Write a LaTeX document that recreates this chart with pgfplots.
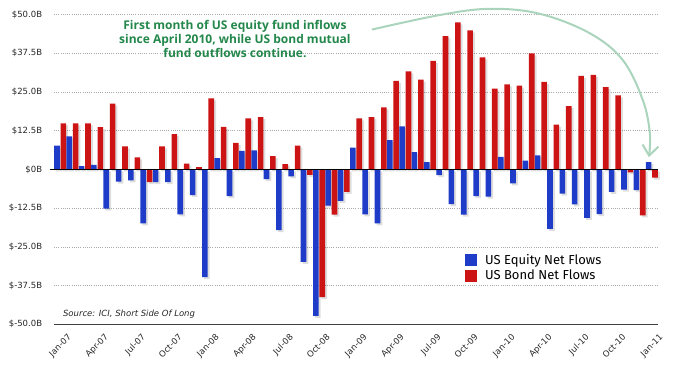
\documentclass[border=0pt]{standalone}
\usepackage{pgfplots}
\pgfplotsset{compat=1.18}
\usepackage{pgfplotstable}
\usepackage{fontspec}
\setmainfont{DejaVu Sans}
\newfontfamily\firafont{Fira Sans}
\newfontfamily\annfont{Open Sans}
\usetikzlibrary{arrows.meta}
\definecolor{eqblue}{RGB}{30,60,200}
\definecolor{bdred}{RGB}{205,20,20}
\definecolor{anngreen}{RGB}{35,135,75}
\definecolor{arrgreen}{RGB}{170,212,188}
\definecolor{gridgray}{RGB}{170,170,170}

\pgfplotstableread{
i eq bond
0 7.7 14.9
1 10.7 14.9
2 1.1 14.9
3 1.5 13.7
4 -12.6 21.3
5 -3.9 7.5
6 -3.5 3.9
7 -17.4 -4.1
8 -4.1 7.5
9 -4.1 11.4
10 -14.5 1.9
11 -8.3 0.75
12 -34.8 23.0
13 3.7 13.8
14 -8.6 8.6
15 6.0 16.5
16 6.2 16.9
17 -3.1 4.3
18 -19.6 1.7
19 -2.2 7.7
20 -29.8 -1.7
21 -47.3 -41.2
22 -11.7 -14.6
23 -10.1 -7.2
24 7.1 16.5
25 -14.5 16.9
26 -17.4 20.1
27 9.5 28.6
28 13.9 31.7
29 5.6 29.0
30 2.4 35.1
31 -1.8 43.1
32 -11.2 47.5
33 -14.6 44.9
34 -8.6 36.2
35 -8.8 26.1
36 4.1 27.5
37 -4.5 27.1
38 2.9 37.5
39 4.6 28.3
40 -19.2 14.5
41 -7.8 20.5
42 -11.3 30.2
43 -15.6 30.6
44 -14.4 26.6
45 -7.2 23.9
46 -6.5 -0.9
47 -6.7 -14.8
48 2.4 -2.6
}\flows

\begin{document}
\begin{tikzpicture}
\begin{axis}[
  scale only axis, width=604pt, height=309.6pt,
  xmin=-0.5, xmax=48.5, ymin=-50, ymax=50,
  clip=false,
  axis line style={draw=none},
  major tick length=0pt,
  ytick={-50,-37.5,-25,-12.5,0,12.5,25,37.5,50},
  yticklabels={\$-50.0B,\$-37.5B,\$-25.0B,\$-12.5B,\$0B,\$12.5B,\$25.0B,\$37.5B,\$50.0B},
  xtick={0,3,...,48},
  xticklabels={Jan-07,Apr-07,Jul-07,Oct-07,Jan-08,Apr-08,Jul-08,Oct-08,Jan-09,Apr-09,Jul-09,Oct-09,Jan-10,Apr-10,Jul-10,Oct-10,Jan-11},
  ymajorgrids,
  major grid style={gridgray, line width=0.6pt, dash pattern=on 0.8pt off 1.4pt},
  tick label style={font=\fontsize{8.5}{10}\selectfont, text=black!85},
  yticklabel style={anchor=east, inner sep=0pt, xshift=-11.7pt},
  xticklabel style={inner sep=0pt, xshift=7pt, yshift=-9pt, rotate=45, anchor=north east},
  legend style={at={(axis cs:32.83,-26.9)}, anchor=north west, draw=none, fill=none,
    inner sep=0pt, row sep=2.5pt, font=\firafont\fontsize{13}{15}\selectfont,
    nodes={inner sep=1pt},
    /tikz/every odd column/.append style={column sep=7pt}},
  legend cell align=left,
  legend image code/.code={\fill[#1] (0pt,-6pt) rectangle (12pt,6pt);},
]
% shadows
\addplot[ybar, bar width=5.6pt, bar shift=-1.2pt, fill=black, fill opacity=0.13, draw=none, yshift=-2pt, forget plot] table[x=i,y=eq] {\flows};
\addplot[ybar, bar width=5.6pt, bar shift=5.2pt, fill=black, fill opacity=0.13, draw=none, yshift=-2pt, forget plot] table[x=i,y=bond] {\flows};
% bars
\addplot[ybar, bar width=5.6pt, bar shift=-3.2pt, fill=eqblue, draw=none] table[x=i,y=eq] {\flows};
\addlegendentry{US Equity Net Flows}
\addplot[ybar, bar width=5.6pt, bar shift=3.2pt, fill=bdred, draw=none] table[x=i,y=bond] {\flows};
\addlegendentry{US Bond Net Flows}
% axis lines
\draw[black, line width=1pt] (axis cs:-0.8,0) -- (axis cs:48.5,0);
\draw[black!75, line width=1.2pt] (axis cs:-0.5,-50) -- (axis cs:48.5,-50);
% annotation
\node[align=center, text=anngreen, font=\annfont\bfseries\fontsize{12}{14.2}\selectfont]
  at (axis cs:14.18,42.1) {First month of US equity fund inflows\\since April 2010, while US bond mutual\\fund outflows continue.};
\draw[arrgreen, line width=2pt, -{Straight Barb[length=10pt, width=16pt]}]
  plot[smooth, tension=0.6] coordinates {(axis cs:25.29,45.2) (axis cs:30.8,49.9) (axis cs:34.86,51.9) (axis cs:38.9,50.3) (axis cs:42.97,44.0) (axis cs:45.65,35.3) (axis cs:47.27,22.4) (axis cs:47.84,11.7) (axis cs:47.76,4.0)};
% source
\node[anchor=west, font=\itshape\fontsize{8.5}{10}\selectfont, text=black!85] at (axis cs:-0.05,-46.6) {Source: ICI, Short Side Of Long};
\end{axis}
\pgfresetboundingbox
\path[use as bounding box] (-54pt,-49.7pt) rectangle (619pt,324.3pt);
\end{tikzpicture}
\end{document}
